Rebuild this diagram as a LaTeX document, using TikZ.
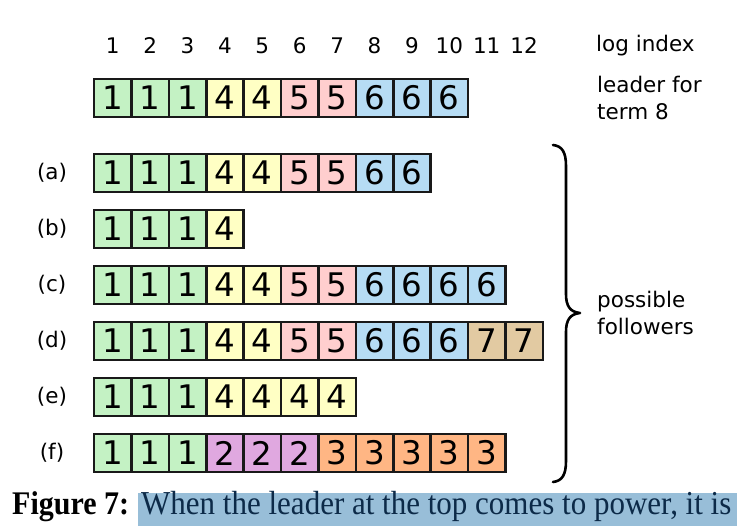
\documentclass[tikz,border=0pt]{standalone}
\usepackage{fontspec}
\setmainfont{DejaVu Sans}
\newfontfamily\capfont{Liberation Serif}
\definecolor{t1}{RGB}{196,242,196}
\definecolor{t2}{RGB}{224,168,224}
\definecolor{t3}{RGB}{255,182,132}
\definecolor{t4}{RGB}{255,255,196}
\definecolor{t5}{RGB}{255,206,206}
\definecolor{t6}{RGB}{182,220,244}
\definecolor{t7}{RGB}{226,202,162}
\definecolor{hl}{RGB}{152,190,216}
\definecolor{capink}{RGB}{12,42,72}
\begin{document}
\begin{tikzpicture}[x=1pt,y=-1pt,
  cell/.style={draw=black!90, line width=2.6pt, minimum width=37.4pt, minimum height=38pt,
    inner sep=0pt, outer sep=0pt, font=\fontsize{32.5}{32.5}\selectfont},
  idx/.style={inner sep=0pt, font=\fontsize{21.5}{21.5}\selectfont},
  lbl/.style={inner sep=0pt, font=\fontsize{21.5}{27.5}\selectfont, align=left, anchor=west},
  brace/.style={line width=2.6pt, line cap=round, line join=round}]
\useasboundingbox (0,0) rectangle (748,526);
% log index numbers
\foreach \i in {1,...,12} {
  \node[idx] (ix\i) at ({94+37.4*(\i-0.5)},46) {\i};
}
\node[lbl] (logidx) at (596,46) {log index};
% rows of log entries
\foreach \r/\y/\lst in {0/98/{1,1,1,4,4,5,5,6,6,6},
    1/173/{1,1,1,4,4,5,5,6,6},
    2/229/{1,1,1,4},
    3/285/{1,1,1,4,4,5,5,6,6,6,6},
    4/341/{1,1,1,4,4,5,5,6,6,6,7,7},
    5/397/{1,1,1,4,4,4,4},
    6/453/{1,1,1,2,2,2,3,3,3,3,3}} {
  \foreach \t [count=\i] in \lst {
    \node[cell, fill=t\t] (r\r c\i) at ({94+37.4*(\i-0.5)},\y) {\t};
  }
}
% row labels
\foreach \r/\y/\l in {1/173/a,2/229/b,3/285/c,4/341/d,5/397/e,6/453/f} {
  \node[idx] (lab\r) at (52,\y) {(\l)};
}
\node[lbl] (leader) at (597,98) {leader for\\term 8};
% brace
\draw[brace] (553,145) .. controls (562,146) and (566,152) .. (566,166)
  -- (566,294) .. controls (566,306) and (570,312) .. (580,313)
  .. controls (570,314) and (566,320) .. (566,332)
  -- (566,461) .. controls (566,475) and (562,481) .. (553,482);
\node[lbl] (follow) at (597,313) {possible\\followers};
% caption
\fill[hl] (138,493) rectangle (737,526);
\node[inner sep=0pt, anchor=base west, font=\capfont\bfseries\fontsize{30}{30}\selectfont] (figlab) at (12,515) {\scalebox{1}[1.1]{Figure 7:}};
\node[inner sep=0pt, anchor=base west, text=capink, font=\capfont\fontsize{31}{31}\selectfont] (captxt) at (141,515) {\scalebox{1}[1.08]{When the leader at the top comes to power, it is}};
\end{tikzpicture}
\end{document}
